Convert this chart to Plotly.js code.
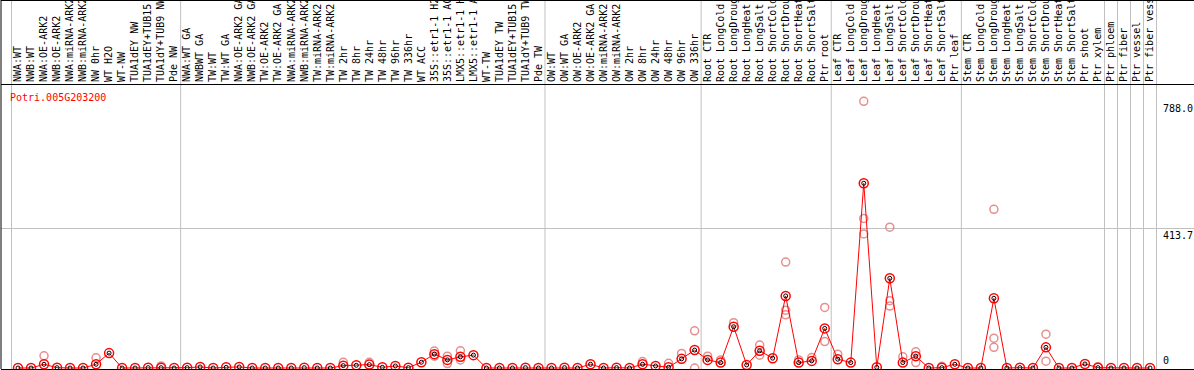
<!DOCTYPE html>
<html><head><meta charset="utf-8">
<script src="https://cdn.plot.ly/plotly-3.0.1.min.js"></script>
<style>html,body{margin:0;padding:0;background:#fff;overflow:hidden}#chart{width:1194px;height:370px}</style>
</head><body><div id="chart"></div>
<script>
const geneName = 'Potri.005G203200';

const categories = [
 'NWA:WT','NWB:WT','NWA:OE-ARK2','NWB:OE-ARK2','NWA:miRNA-ARK2','NWB:miRNA-ARK2','NW 0hr','WT H2O','WT-NW','TUA1dEY NW','TUA1dEY+TUB15 NW','TUA1dY+TUB9 NW','Pde NW',
 'NWA:WT GA','NWBWT GA','TW:WT','TW:WT GA','NWA:OE-ARK2 GA','NWB:OE-ARK2 GA','TW:OE-ARK2','TW:OE-ARK2 GA','NWA:miRNA-ARK2','NWB:miRNA-ARK2','TW:miRNA-ARK2','TW:miRNA-ARK2',
 'TW 2hr','TW 8hr','TW 24hr','TW 48hr','TW 96hr','TW 336hr','WT ACC','35S::etr1-1 H2O','35S::etr1-1 ACC','LMX5::etr1-1 H2O','LMX5::etr1-1 ACC','WT-TW','TUA1dEY TW','TUA1dEY+TUB15 TW','TUA1dY+TUB9 TW','Pde TW',
 'OW:WT','OW:WT GA','OW:OE-ARK2','OW:OE-ARK2 GA','OW:miRNA-ARK2','OW:miRNA-ARK2','OW 2hr','OW 8hr','OW 24hr','OW 48hr','OW 96hr','OW 336hr',
 'Root CTR','Root LongCold','Root LongDrought','Root LongHeat','Root LongSalt','Root ShortCold','Root ShortDrought','Root ShortHeat','Root ShortSalt','Ptr root',
 'Leaf CTR','Leaf LongCold','Leaf LongDrought','Leaf LongHeat','Leaf LongSalt','Leaf ShortCold','Leaf ShortDrought','Leaf ShortHeat','Leaf ShortSalt','Ptr leaf',
 'Stem CTR','Stem LongCold','Stem LongDrought','Stem LongHeat','Stem LongSalt','Stem ShortCold','Stem ShortDrought','Stem ShortHeat','Stem ShortSalt','Ptr shoot','Ptr xylem',
 'Ptr phloem','Ptr fiber','Ptr vessel','Ptr fiber vessel'
];

const meanValues = [
 0,0,11,1,0,0,11,44,0,0,1,1,0,
 1,3,0,2,3,0,0,0,0,1,0,0,
 7,8,10,2,6,1,17,41,24,33,38,0,0,0,1,0,
 0,1,0,11,0,1,0,11,6,2,27,53,
 24,16,122,9,51,29,213,16,21,117,
 26,16,546,2,265,16,35,0,1,11,
 0,0,206,0,1,0,61,0,0,12,1,
 0,0,0,0
];

const repLabels = [
 'NWA:OE-ARK2','NW 0hr','TUA1dY+TUB9 NW','TW 2hr','TW 24hr',
 '35S::etr1-1 H2O','35S::etr1-1 H2O','35S::etr1-1 ACC','35S::etr1-1 ACC','LMX5::etr1-1 H2O','LMX5::etr1-1 H2O',
 'OW 8hr','OW 48hr','OW 96hr','OW 336hr','OW 336hr',
 'Root CTR','Root LongCold','Root LongDrought','Root LongSalt','Root LongSalt',
 'Root ShortDrought','Root ShortDrought','Root ShortDrought','Root ShortHeat','Root ShortSalt','Ptr root','Ptr root',
 'Leaf CTR','Leaf LongDrought','Leaf LongDrought','Leaf LongDrought','Leaf LongSalt','Leaf LongSalt','Leaf LongSalt',
 'Leaf ShortCold','Leaf ShortDrought','Leaf ShortDrought','Leaf ShortSalt',
 'Stem LongDrought','Stem LongDrought','Stem LongDrought','Stem ShortDrought','Stem ShortDrought','Ptr xylem'
];
const repValues = [
 36,30,6,17,17,
 50,35,35,13,51,24,
 19,14,43,110,0,
 35,24,134,68,38,
 313,171,157,24,31,179,78,
 41,788,442,396,416,199,183,
 33,48,16,5,
 469,88,61,100,20,4
];

// categories after which a group separator is drawn
const groupEnds = ['Pde NW','Pde TW','OW 336hr','Ptr root','Ptr leaf','Ptr xylem','Ptr phloem','Ptr fiber','Ptr vessel','Ptr fiber vessel'];

const yTickVals = [0, 413.7, 788.0];
const yTickText = ['0', '413.7', '788.0'];

const xIdx = categories.map((_, i) => i);
const repX = repLabels.map(l => categories.indexOf(l));

const traces = [
 {x: repX, y: repValues, type: 'scatter', mode: 'markers', hoverinfo: 'skip',
  marker: {symbol: 'circle-open', size: 8, color: 'rgba(228,130,130,0.9)', line: {width: 1.5}}},
 {x: xIdx, y: meanValues, type: 'scatter', mode: 'lines', hoverinfo: 'skip',
  line: {color: '#ff0000', width: 1}},
 {x: xIdx, y: meanValues, type: 'scatter', mode: 'markers', hoverinfo: 'skip',
  marker: {symbol: 'circle-open', size: 9, color: '#ff0000', line: {width: 1.5}}},
 {x: xIdx, y: meanValues, type: 'scatter', mode: 'markers', hoverinfo: 'skip',
  marker: {symbol: 'circle-open', size: 4, color: '#000000', line: {width: 1}}}
];

const topPaper = 1 + 85 / 284;
const shapes = [];
const sepPositions = [-0.5].concat(groupEnds.map(l => categories.lastIndexOf(l) + 0.5));
sepPositions.forEach(p => shapes.push({type: 'line', xref: 'x', yref: 'paper', x0: p, x1: p, y0: 0, y1: topPaper + 0.05,
  line: {color: '#c0c0c0', width: 1}, layer: 'below'}));
shapes.push({type: 'line', xref: 'paper', yref: 'paper', x0: 0, x1: 0, y0: 0, y1: topPaper + 0.05, line: {color: '#000', width: 1}});
shapes.push({type: 'line', xref: 'paper', yref: 'paper', x0: 0, x1: 1, y0: 1 + 84.5 / 284, y1: 1 + 84.5 / 284, line: {color: '#000', width: 1}});

const annotations = yTickVals.map((v, i) => ({
  xref: 'paper', x: (1161 - 1) / 1193, xanchor: 'left', yref: 'y', y: v,
  yanchor: v === 0 ? 'bottom' : 'top', text: yTickText[i], showarrow: false,
  font: {family: 'DejaVu Sans Mono', size: 10, color: '#000'}
}));

const layout = {
  width: 1194, height: 370,
  margin: {l: 1, r: 0, t: 85, b: 1, pad: 0},
  showlegend: false,
  paper_bgcolor: '#ffffff', plot_bgcolor: '#ffffff',
  font: {family: 'DejaVu Sans Mono', size: 10, color: '#000'},
  title: {text: geneName, font: {family: 'DejaVu Sans Mono', size: 10, color: '#ff0000'},
          xref: 'container', x: 10 / 1194, xanchor: 'left', yref: 'container', y: 1 - 97 / 370, yanchor: 'middle'},
  xaxis: {side: 'top', range: [-1.307, 90.38], tickmode: 'array', tickvals: xIdx, ticktext: categories,
          tickangle: -90, showgrid: false, zeroline: false, showline: true, linecolor: '#000', linewidth: 1,
          mirror: true, ticks: '', automargin: false, fixedrange: true,
          tickfont: {family: 'DejaVu Sans Mono', size: 10, color: '#000'}},
  yaxis: {range: [-2.955, 836.3], tickmode: 'array', tickvals: [413.7], showticklabels: false,
          showgrid: true, gridcolor: '#c0c0c0', gridwidth: 1, zeroline: false, showline: false,
          automargin: false, fixedrange: true},
  shapes: shapes,
  annotations: annotations
};

Plotly.newPlot('chart', traces, layout, {displayModeBar: false, staticPlot: true});
</script>
</body></html>
